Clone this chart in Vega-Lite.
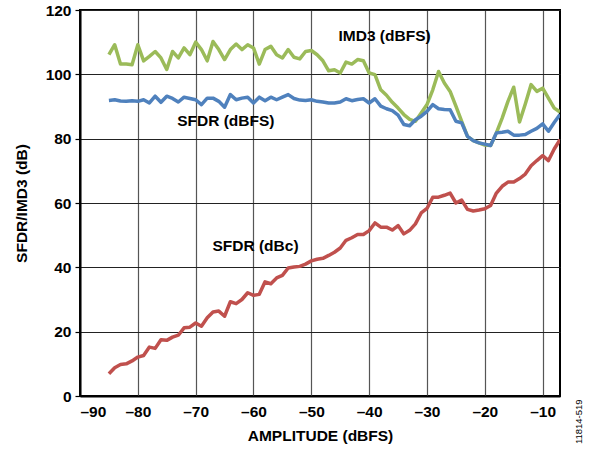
{
  "$schema": "https://vega.github.io/schema/vega-lite/v6.json",
  "width": 480,
  "height": 386,
  "autosize": {"type": "none"},
  "padding": {"left": 80, "top": 10, "right": 35, "bottom": 58},
  "background": "white",
  "config": {"view": {"stroke": "black", "strokeWidth": 2}, "font": "Liberation Sans"},
  "layer": [
    {
      "data": {"values": [
        {"a": -85, "IMD3": 106.1, "SFDR": 91.9, "dBc": 6.9},
        {"a": -84, "IMD3": 109.2, "SFDR": 92.1, "dBc": 8.8},
        {"a": -83, "IMD3": 103.2, "SFDR": 91.7, "dBc": 9.8},
        {"a": -82, "IMD3": 103.2, "SFDR": 91.6, "dBc": 10.0},
        {"a": -81, "IMD3": 103.0, "SFDR": 91.8, "dBc": 10.9},
        {"a": -80, "IMD3": 109.2, "SFDR": 91.6, "dBc": 12.1},
        {"a": -79, "IMD3": 104.2, "SFDR": 92.1, "dBc": 12.6},
        {"a": -78, "IMD3": 105.6, "SFDR": 91.1, "dBc": 15.2},
        {"a": -77, "IMD3": 107.1, "SFDR": 93.2, "dBc": 14.8},
        {"a": -76, "IMD3": 105.1, "SFDR": 91.3, "dBc": 17.5},
        {"a": -75, "IMD3": 101.5, "SFDR": 93.2, "dBc": 17.3},
        {"a": -74, "IMD3": 107.1, "SFDR": 92.5, "dBc": 18.3},
        {"a": -73, "IMD3": 105.1, "SFDR": 91.4, "dBc": 18.9},
        {"a": -72, "IMD3": 108.2, "SFDR": 92.9, "dBc": 21.2},
        {"a": -71, "IMD3": 106.1, "SFDR": 92.5, "dBc": 21.4},
        {"a": -70, "IMD3": 110.0, "SFDR": 92.1, "dBc": 22.7},
        {"a": -69, "IMD3": 107.7, "SFDR": 90.6, "dBc": 21.7},
        {"a": -68, "IMD3": 104.2, "SFDR": 92.6, "dBc": 24.3},
        {"a": -67, "IMD3": 110.2, "SFDR": 92.6, "dBc": 26.1},
        {"a": -66, "IMD3": 107.7, "SFDR": 91.6, "dBc": 26.4},
        {"a": -65, "IMD3": 104.6, "SFDR": 89.8, "dBc": 24.8},
        {"a": -64, "IMD3": 107.7, "SFDR": 93.7, "dBc": 29.3},
        {"a": -63, "IMD3": 109.4, "SFDR": 92.1, "dBc": 28.7},
        {"a": -62, "IMD3": 107.7, "SFDR": 92.6, "dBc": 30.0},
        {"a": -61, "IMD3": 109.2, "SFDR": 92.9, "dBc": 32.1},
        {"a": -60, "IMD3": 108.2, "SFDR": 91.1, "dBc": 31.3},
        {"a": -59, "IMD3": 103.2, "SFDR": 92.9, "dBc": 31.6},
        {"a": -58, "IMD3": 107.7, "SFDR": 91.8, "dBc": 35.5},
        {"a": -57, "IMD3": 108.7, "SFDR": 92.9, "dBc": 34.9},
        {"a": -56, "IMD3": 106.1, "SFDR": 92.1, "dBc": 36.7},
        {"a": -55, "IMD3": 105.1, "SFDR": 92.9, "dBc": 37.5},
        {"a": -54, "IMD3": 107.7, "SFDR": 93.7, "dBc": 39.8},
        {"a": -53, "IMD3": 105.3, "SFDR": 92.5, "dBc": 40.1},
        {"a": -52, "IMD3": 104.8, "SFDR": 92.0, "dBc": 40.3},
        {"a": -51, "IMD3": 107.1, "SFDR": 91.9, "dBc": 41.0},
        {"a": -50, "IMD3": 107.4, "SFDR": 92.1, "dBc": 42.0},
        {"a": -49, "IMD3": 106.1, "SFDR": 91.6, "dBc": 42.5},
        {"a": -48, "IMD3": 104.2, "SFDR": 91.4, "dBc": 42.8},
        {"a": -47, "IMD3": 101.1, "SFDR": 91.1, "dBc": 43.7},
        {"a": -46, "IMD3": 101.4, "SFDR": 91.1, "dBc": 44.7},
        {"a": -45, "IMD3": 100.4, "SFDR": 91.4, "dBc": 46.0},
        {"a": -44, "IMD3": 103.8, "SFDR": 92.4, "dBc": 48.4},
        {"a": -43, "IMD3": 103.2, "SFDR": 91.8, "dBc": 49.2},
        {"a": -42, "IMD3": 104.6, "SFDR": 92.2, "dBc": 50.2},
        {"a": -41, "IMD3": 104.2, "SFDR": 92.4, "dBc": 50.2},
        {"a": -40, "IMD3": 100.4, "SFDR": 91.1, "dBc": 51.4},
        {"a": -39, "IMD3": 99.9, "SFDR": 92.4, "dBc": 53.8},
        {"a": -38, "IMD3": 95.2, "SFDR": 90.1, "dBc": 52.5},
        {"a": -37, "IMD3": 93.5, "SFDR": 89.3, "dBc": 52.5},
        {"a": -36, "IMD3": 91.3, "SFDR": 88.7, "dBc": 51.6},
        {"a": -35, "IMD3": 89.5, "SFDR": 87.3, "dBc": 53.0},
        {"a": -34, "IMD3": 87.5, "SFDR": 84.4, "dBc": 50.4},
        {"a": -33, "IMD3": 86.0, "SFDR": 84.0, "dBc": 51.5},
        {"a": -32, "IMD3": 85.4, "SFDR": 85.9, "dBc": 53.5},
        {"a": -31, "IMD3": 88.0, "SFDR": 87.0, "dBc": 56.9},
        {"a": -30, "IMD3": 90.6, "SFDR": 88.5, "dBc": 58.3},
        {"a": -29, "IMD3": 95.2, "SFDR": 90.6, "dBc": 61.8},
        {"a": -28, "IMD3": 100.9, "SFDR": 89.3, "dBc": 61.8},
        {"a": -27, "IMD3": 97.3, "SFDR": 89.1, "dBc": 62.4},
        {"a": -26, "IMD3": 94.7, "SFDR": 89.0, "dBc": 63.1},
        {"a": -25, "IMD3": 90.1, "SFDR": 85.4, "dBc": 60.0},
        {"a": -24, "IMD3": 85.4, "SFDR": 84.9, "dBc": 60.9},
        {"a": -23, "IMD3": 80.7, "SFDR": 80.7, "dBc": 58.0},
        {"a": -22, "IMD3": 79.4, "SFDR": 79.4, "dBc": 57.5},
        {"a": -21, "IMD3": 78.7, "SFDR": 78.7, "dBc": 57.8},
        {"a": -20, "IMD3": 78.0, "SFDR": 78.3, "dBc": 58.2},
        {"a": -19, "IMD3": 77.9, "SFDR": 77.9, "dBc": 59.2},
        {"a": -18, "IMD3": 81.8, "SFDR": 81.8, "dBc": 63.1},
        {"a": -17, "IMD3": 86.4, "SFDR": 82.0, "dBc": 65.2},
        {"a": -16, "IMD3": 91.6, "SFDR": 82.3, "dBc": 66.5},
        {"a": -15, "IMD3": 96.0, "SFDR": 81.1, "dBc": 66.5},
        {"a": -14, "IMD3": 85.2, "SFDR": 81.1, "dBc": 67.6},
        {"a": -13, "IMD3": 90.8, "SFDR": 81.3, "dBc": 69.0},
        {"a": -12, "IMD3": 96.8, "SFDR": 82.3, "dBc": 71.6},
        {"a": -11, "IMD3": 94.7, "SFDR": 83.2, "dBc": 73.2},
        {"a": -10, "IMD3": 95.7, "SFDR": 84.6, "dBc": 74.7},
        {"a": -9, "IMD3": 92.6, "SFDR": 82.3, "dBc": 73.2},
        {"a": -8, "IMD3": 89.5, "SFDR": 85.0, "dBc": 76.8},
        {"a": -7, "IMD3": 88.3, "SFDR": 87.5, "dBc": 79.7}
      ]},
      "transform": [{"fold": ["IMD3", "SFDR", "dBc"], "as": ["series", "v"]}],
      "mark": {"type": "line", "strokeWidth": 3.5, "clip": true, "strokeJoin": "round"},
      "encoding": {
        "x": {
          "field": "a", "type": "quantitative",
          "scale": {"domain": [-90, -7], "nice": false, "zero": false},
          "axis": {
            "values": [-90, -80, -70, -60, -50, -40, -30, -20, -10],
            "labelExpr": "datum.value < 0 ? '–' + abs(datum.value) : '' + datum.value",
            "labelFont": "Liberation Sans", "labelFontSize": 15.5, "labelFontWeight": "bold", "labelColor": "black",
            "labelPadding": 8, "ticks": false,
            "domainColor": "black", "domainWidth": 2,
            "grid": true, "gridColor": "#555", "gridWidth": 1.2,
            "title": "AMPLITUDE (dBFS)", "titleFont": "Liberation Sans", "titleFontSize": 15.5, "titleFontWeight": "bold", "titleColor": "black", "titlePadding": 9
          }
        },
        "y": {
          "field": "v", "type": "quantitative",
          "scale": {"domain": [0, 120], "nice": false, "zero": true},
          "axis": {
            "values": [0, 20, 40, 60, 80, 100, 120],
            "labelFont": "Liberation Sans", "labelFontSize": 15.5, "labelFontWeight": "bold", "labelColor": "black",
            "labelPadding": 4, "tickSize": 5, "tickColor": "black", "tickWidth": 1.2,
            "domainColor": "black", "domainWidth": 2,
            "grid": true, "gridColor": "#222", "gridWidth": 1.2,
            "title": "SFDR/IMD3 (dB)", "titleFont": "Liberation Sans", "titleFontSize": 15.5, "titleFontWeight": "bold", "titleColor": "black", "titlePadding": 16
          }
        },
        "color": {
          "field": "series", "type": "nominal",
          "scale": {"domain": ["IMD3", "SFDR", "dBc"], "range": ["#9BBB59", "#4F81BD", "#C0504D"]},
          "legend": null
        }
      }
    },
    {
      "data": {"values": [
        {"a": -45.3, "v": 111.8, "t": "IMD3 (dBFS)"},
        {"a": -73.2, "v": 85.4, "t": "SFDR (dBFS)"},
        {"a": -67.1, "v": 46.6, "t": "SFDR (dBc)"}
      ]},
      "mark": {"type": "text", "align": "left", "baseline": "middle", "font": "Liberation Sans", "fontWeight": "bold", "fontSize": 15.5, "color": "black"},
      "encoding": {
        "x": {"field": "a", "type": "quantitative"},
        "y": {"field": "v", "type": "quantitative"},
        "text": {"field": "t"}
      }
    },
    {
      "data": {"values": [{"a": -3.8, "v": -8, "t": "11814-519"}]},
      "mark": {"type": "text", "align": "center", "baseline": "middle", "angle": 270, "font": "Liberation Sans", "fontSize": 9.5, "color": "black"},
      "encoding": {
        "x": {"field": "a", "type": "quantitative"},
        "y": {"field": "v", "type": "quantitative"},
        "text": {"field": "t"}
      }
    }
  ]
}
